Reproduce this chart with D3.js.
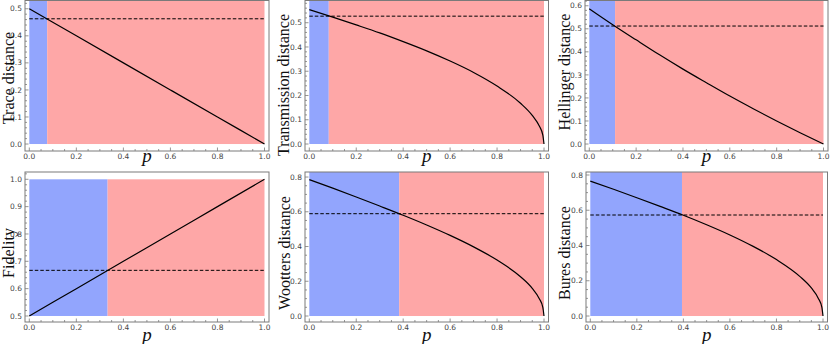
<!DOCTYPE html>
<html>
<head>
<meta charset="utf-8">
<script src="https://cdn.jsdelivr.net/npm/d3@7/dist/d3.min.js"></script>
<style>
  body { margin: 0; background: #fff; }
  svg { display: block; }
  .title { font-family: "Liberation Serif", "Times New Roman", "DejaVu Serif", serif; }
  .tick-label { font-family: "DejaVu Sans", sans-serif; }
</style>
</head>
<body>
<svg width="830" height="344"></svg>
<script>
// values
var lineP = [0, 0.2, 0.4, 0.6, 0.8, 1.0];
var traceValues = [0.5, 0.4, 0.3, 0.2, 0.1, 0.0];
var fidelityValues = [0.5, 0.6, 0.7, 0.8, 0.9, 1.0];

var curveP = [0, 0.1, 0.2, 0.3, 0.4, 0.5, 0.6, 0.7, 0.8, 0.9, 0.95, 0.98, 0.995, 1.0];
var transmissionValues = [0.554, 0.523, 0.491, 0.458, 0.422, 0.384, 0.342, 0.295, 0.239, 0.168, 0.118, 0.074, 0.037, 0.0];
var woottersValues = [0.785, 0.736, 0.685, 0.633, 0.580, 0.524, 0.464, 0.398, 0.322, 0.226, 0.159, 0.100, 0.050, 0.0];
var buresValues = [0.765, 0.719, 0.671, 0.622, 0.572, 0.518, 0.460, 0.395, 0.320, 0.225, 0.159, 0.100, 0.050, 0.0];

var hellingerP = [0, 0.1, 0.2, 0.3, 0.4, 0.5, 0.6, 0.7, 0.8, 0.9, 1.0];
var hellingerValues = [0.587, 0.518, 0.452, 0.387, 0.325, 0.266, 0.208, 0.153, 0.100, 0.049, 0.0];

var titles = ['Trace distance', 'Transmission distance', 'Hellinger distance',
              'Fidelity', 'Wootters distance', 'Bures distance'];
// dashed threshold level and blue/red boundary on p
var thresholds = [0.463, 0.527, 0.512, 0.667, 0.589, 0.573];
var boundaries = [0.076, 0.083, 0.110, 0.333, 0.383, 0.394];
// plot range (y) of each frame and the band that is filled
var yLims = [[-0.0258, 0.5306], [-0.0288, 0.5916], [-0.0303, 0.6228],
             [0.478, 1.0267], [-0.0345, 0.829], [-0.034, 0.817]];
var fillBands = [[0, 0.5306], [0, 0.5916], [0, 0.6228],
                 [0.5, 1.0], [0, 0.829], [0, 0.817]];
var yTicks = [[0, 0.1, 0.2, 0.3, 0.4, 0.5], [0, 0.1, 0.2, 0.3, 0.4, 0.5],
              [0, 0.1, 0.2, 0.3, 0.4, 0.5, 0.6], [0.5, 0.6, 0.7, 0.8, 0.9, 1.0],
              [0, 0.2, 0.4, 0.6, 0.8], [0, 0.2, 0.4, 0.6, 0.8]];
var yMinorStep = [0.02, 0.02, 0.02, 0.02, 0.05, 0.05];
var xTicks = [0, 0.2, 0.4, 0.6, 0.8, 1.0];

var series = [
    { p: lineP, v: traceValues },
    { p: curveP, v: transmissionValues },
    { p: hellingerP, v: hellingerValues },
    { p: lineP, v: fidelityValues },
    { p: curveP, v: woottersValues },
    { p: curveP, v: buresValues }
];

// frame boxes (pixels) and where the axis titles sit
var frames = [
    { left: 25, right: 269, top: 0.5, bottom: 151, labelX: 13.5, labelY: 78, pY: 162 },
    { left: 305, right: 548.5, top: 0.5, bottom: 151, labelX: 289, labelY: 85, pY: 162 },
    { left: 585, right: 828, top: 0.5, bottom: 151, labelX: 569.5, labelY: 72, pY: 162 },
    { left: 25, right: 269, top: 172, bottom: 322, labelX: 13.5, labelY: 253, pY: 340.5 },
    { left: 305, right: 548.5, top: 172, bottom: 322, labelX: 290, labelY: 253, pY: 340.5 },
    { left: 586, right: 827.5, top: 172, bottom: 322, labelX: 570, labelY: 253, pY: 340.5 }
];

var blue = '#92a5fd';
var red = '#fea7a7';
var frameColor = '#7a7a7a';

var svg = d3.select('svg');

function isMajor(list, d) {
    return list.some(function (t) { return Math.abs(t - d) < 1e-6; });
}

titles.forEach(function (title, i) {
    var f = frames[i];
    var x = d3.scaleLinear().domain([0, 1]).range([f.left + 4.3, f.right - 4.5]);
    var y = d3.scaleLinear().domain(yLims[i]).range([f.bottom, f.top]);
    var g = svg.append('g').attr('class', 'panel');

    var band = fillBands[i];
    g.append('rect')
        .attr('x', x(0)).attr('y', y(band[1]))
        .attr('width', x(boundaries[i]) - x(0))
        .attr('height', y(band[0]) - y(band[1]))
        .attr('fill', blue);
    g.append('rect')
        .attr('x', x(boundaries[i])).attr('y', y(band[1]))
        .attr('width', x(1) - x(boundaries[i]))
        .attr('height', y(band[0]) - y(band[1]))
        .attr('fill', red);

    // dashed threshold
    g.append('line')
        .attr('x1', x(0)).attr('x2', x(1))
        .attr('y1', y(thresholds[i])).attr('y2', y(thresholds[i]))
        .attr('stroke', '#000').attr('stroke-width', 1)
        .attr('stroke-dasharray', '3.5,2');

    var pts = series[i].p.map(function (p, k) { return [p, series[i].v[k]]; });
    var line = d3.line()
        .x(function (d) { return x(d[0]); })
        .y(function (d) { return y(d[1]); })
        .curve(d3.curveMonotoneX);

    g.append('path')
        .attr('d', line(pts))
        .attr('fill', 'none')
        .attr('stroke', '#000')
        .attr('stroke-width', 1.2);

    // frame
    g.append('rect')
        .attr('x', f.left).attr('y', f.top)
        .attr('width', f.right - f.left).attr('height', f.bottom - f.top)
        .attr('fill', 'none').attr('stroke', frameColor).attr('stroke-width', 1);

    // x ticks (inward)
    var xMinor = d3.range(0, 1.0001, 0.05);
    g.selectAll('.xminor').data(xMinor).enter().append('line')
        .attr('x1', function (d) { return x(d); }).attr('x2', function (d) { return x(d); })
        .attr('y1', f.bottom).attr('y2', function (d) {
            return f.bottom - (isMajor(xTicks, d) ? 3.5 : 2);
        })
        .attr('stroke', frameColor).attr('stroke-width', 0.8);
    g.selectAll('.xlab').data(xTicks).enter().append('text')
        .attr('class', 'tick-label')
        .attr('x', function (d) { return x(d); })
        .attr('y', f.bottom + 8)
        .attr('text-anchor', 'middle')
        .attr('font-size', 7.5)
        .attr('fill', '#444')
        .text(d3.format('.1f'));

    // y ticks (inward)
    var yt = yTicks[i];
    var yMinor = d3.range(yt[0], yLims[i][1] + 1e-9, yMinorStep[i]);
    g.selectAll('.yminor').data(yMinor).enter().append('line')
        .attr('y1', function (d) { return y(d); }).attr('y2', function (d) { return y(d); })
        .attr('x1', f.left).attr('x2', function (d) {
            return f.left + (isMajor(yt, d) ? 3.5 : 2);
        })
        .attr('stroke', frameColor).attr('stroke-width', 0.8);
    g.selectAll('.ylab').data(yt).enter().append('text')
        .attr('class', 'tick-label')
        .attr('x', f.left - 3)
        .attr('y', function (d) { return y(d); })
        .attr('dy', '0.35em')
        .attr('text-anchor', 'end')
        .attr('font-size', 7.5)
        .attr('fill', '#444')
        .text(d3.format('.1f'));

    // axis titles
    g.append('text')
        .attr('class', 'title')
        .attr('transform', 'translate(' + f.labelX + ',' + f.labelY + ') rotate(-90)')
        .attr('text-anchor', 'middle')
        .attr('font-size', 16)
        .attr('fill', '#111')
        .text(title);
    g.append('text')
        .attr('class', 'title')
        .attr('x', (x(0) + x(1)) / 2)
        .attr('y', f.pY)
        .attr('text-anchor', 'middle')
        .attr('font-style', 'italic')
        .attr('font-size', 19)
        .attr('fill', '#111')
        .text('p');
});
</script>
</body>
</html>
